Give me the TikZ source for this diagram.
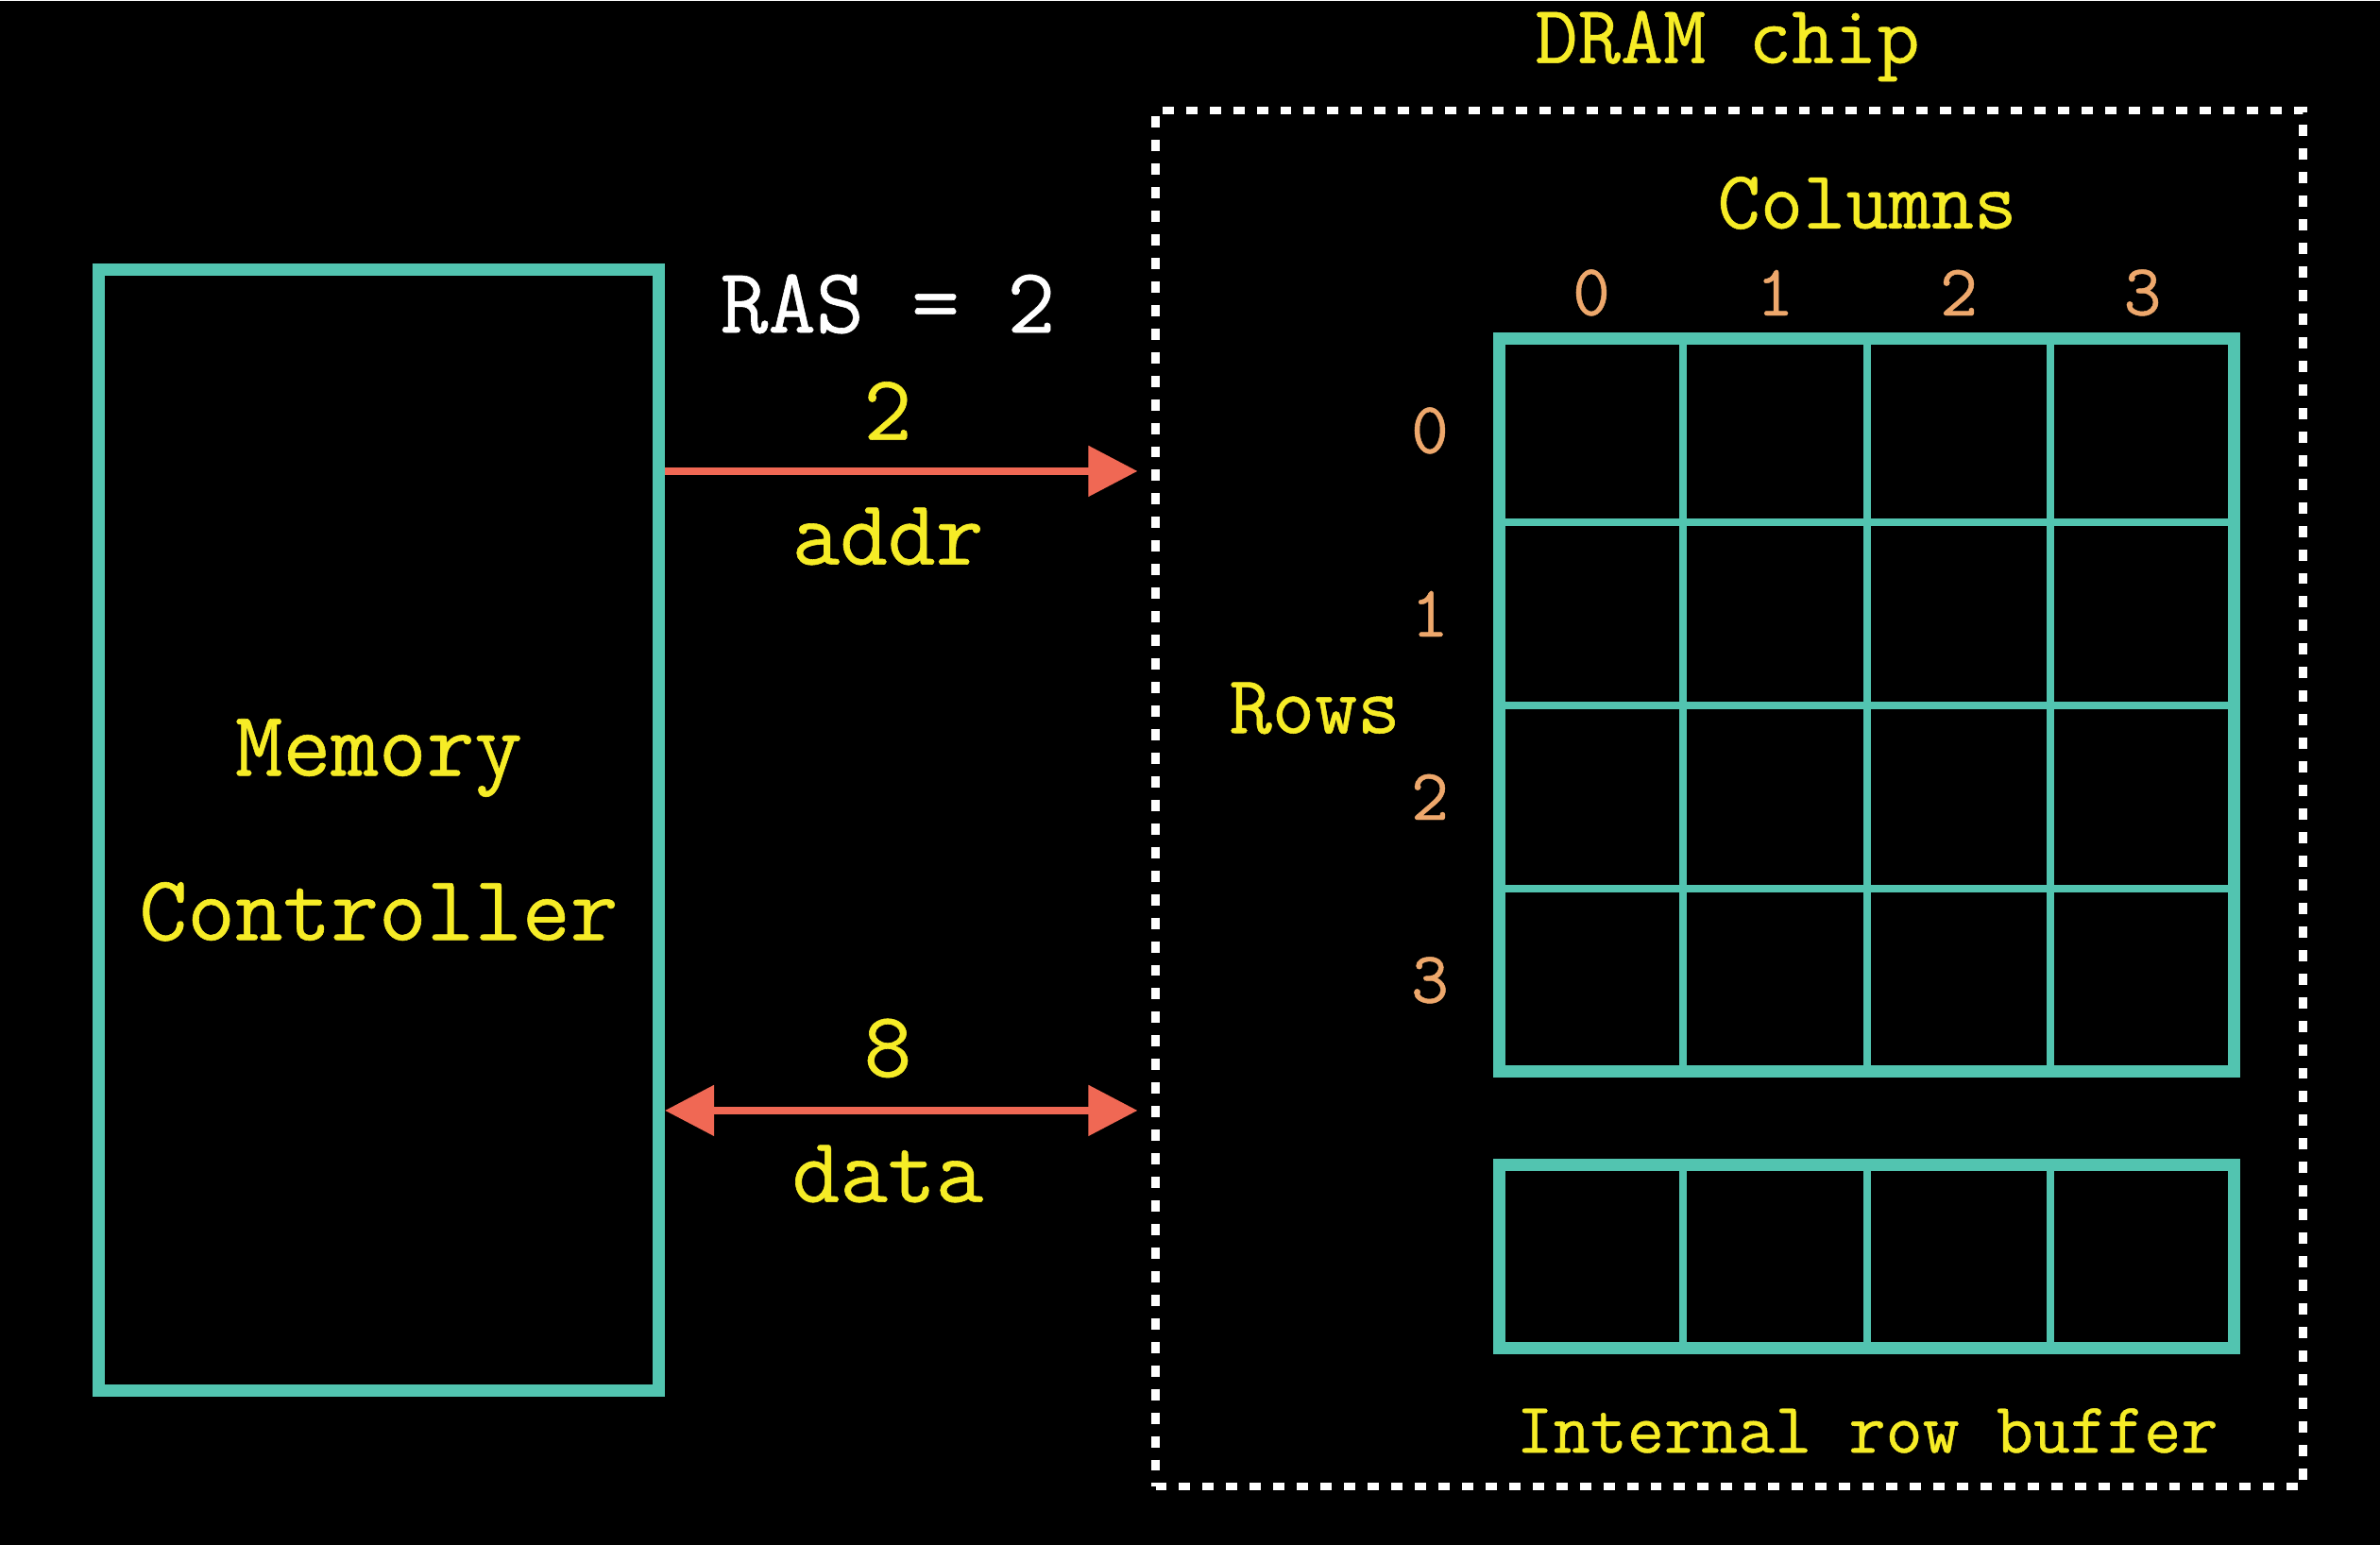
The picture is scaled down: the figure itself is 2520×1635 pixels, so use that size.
\documentclass[tikz,border=0pt]{standalone}
\usepackage{fontspec}
\newfontfamily\dramtt{Latin Modern Mono}[FakeBold=0.6]
\usetikzlibrary{arrows.meta,positioning}
\definecolor{dteal}{RGB}{82,196,176}
\definecolor{dred}{RGB}{240,104,84}
\definecolor{dyellow}{RGB}{246,236,38}
\definecolor{dorange}{RGB}{238,168,108}
\tikzset{
  lbl/.style = {text=dyellow, font=\dramtt\fontsize{28}{34}\selectfont},
  sublbl/.style = {text=dyellow, font=\dramtt\fontsize{25}{30}\selectfont},
  idx/.style = {text=dorange, font=\dramtt\fontsize{22}{26}\selectfont},
  ctrl/.style = {draw=dteal, line width=3.7pt, align=center, text=dyellow,
    font=\dramtt\fontsize{28}{49.5}\selectfont},
  chipbox/.style = {draw=white, line width=2.3pt, dash pattern=on 3.4pt off 3.7pt},
  cell/.style = {draw=dteal, line width=2.3pt, minimum width=19.45mm,
    minimum height=19.4mm, outer sep=0pt, inner sep=0pt},
  bus/.style = {draw=dred, line width=2.3pt},
  tip/.tip = {Triangle[length=5.2mm, width=5.2mm]}
}
\begin{document}
\begin{tikzpicture}[x=0.1mm, y=-0.1mm]
	\fill[black] (0,0) rectangle (2520,1635);
	% controller and chip outline
	\node[ctrl, minimum width=59.3mm, minimum height=118.7mm] (mc) at (401,878) {Memory\\Controller};
	\node[chipbox, minimum width=121.5mm, minimum height=145.7mm] (chip) at (1831,845) {};
	\node[sublbl] (title) at (1829,48) {DRAM chip};
	% buses
	\coordinate (addry) at (0,498);
	\coordinate (datay) at (0,1175);
	\draw[bus, -tip] (mc.east |- addry) -- ([xshift=-1.5mm]chip.west |- addry);
	\draw[bus, tip-tip] (mc.east |- datay) -- ([xshift=-1.5mm]chip.west |- datay);
	\node[lbl, text=white] (ras) at (940,321) {RAS = 2};
	\node[lbl] (addrval) at (940,434) {2};
	\node[lbl] (addr) at (940,567) {addr};
	\node[lbl] (dataval) at (940,1109) {8};
	\node[lbl] (data) at (940,1242) {data};
	% cell array
	\foreach \r in {0,...,3}
	  \foreach \c in {0,...,3}
	    \node[cell] (c\r\c) at ({1685+194.5*\c},{455+194*\r}) {};
	\draw[dteal, line width=3.7pt] (c00.north west) rectangle (c33.south east);
	\foreach \i in {0,...,3} {
	  \node[idx] (col\i) at ({1685+194.5*\i},309) {\i};
	  \node[idx] (row\i) at (1514,{455+194*\i}) {\i};
	}
	\node[sublbl] (cols) at (1977,214) {Columns};
	\node[sublbl] (rows) at (1392,749) {Rows};
	% row buffer
	\foreach \c in {0,...,3}
	  \node[cell] (b\c) at ({1685+194.5*\c},1330) {};
	\draw[dteal, line width=3.7pt] (b0.north west) rectangle (b3.south east);
	\node[text=dyellow, font=\dramtt\fontsize{21.6}{26}\selectfont] (buf) at (1977,1514) {Internal row buffer};
\end{tikzpicture}
\end{document}
